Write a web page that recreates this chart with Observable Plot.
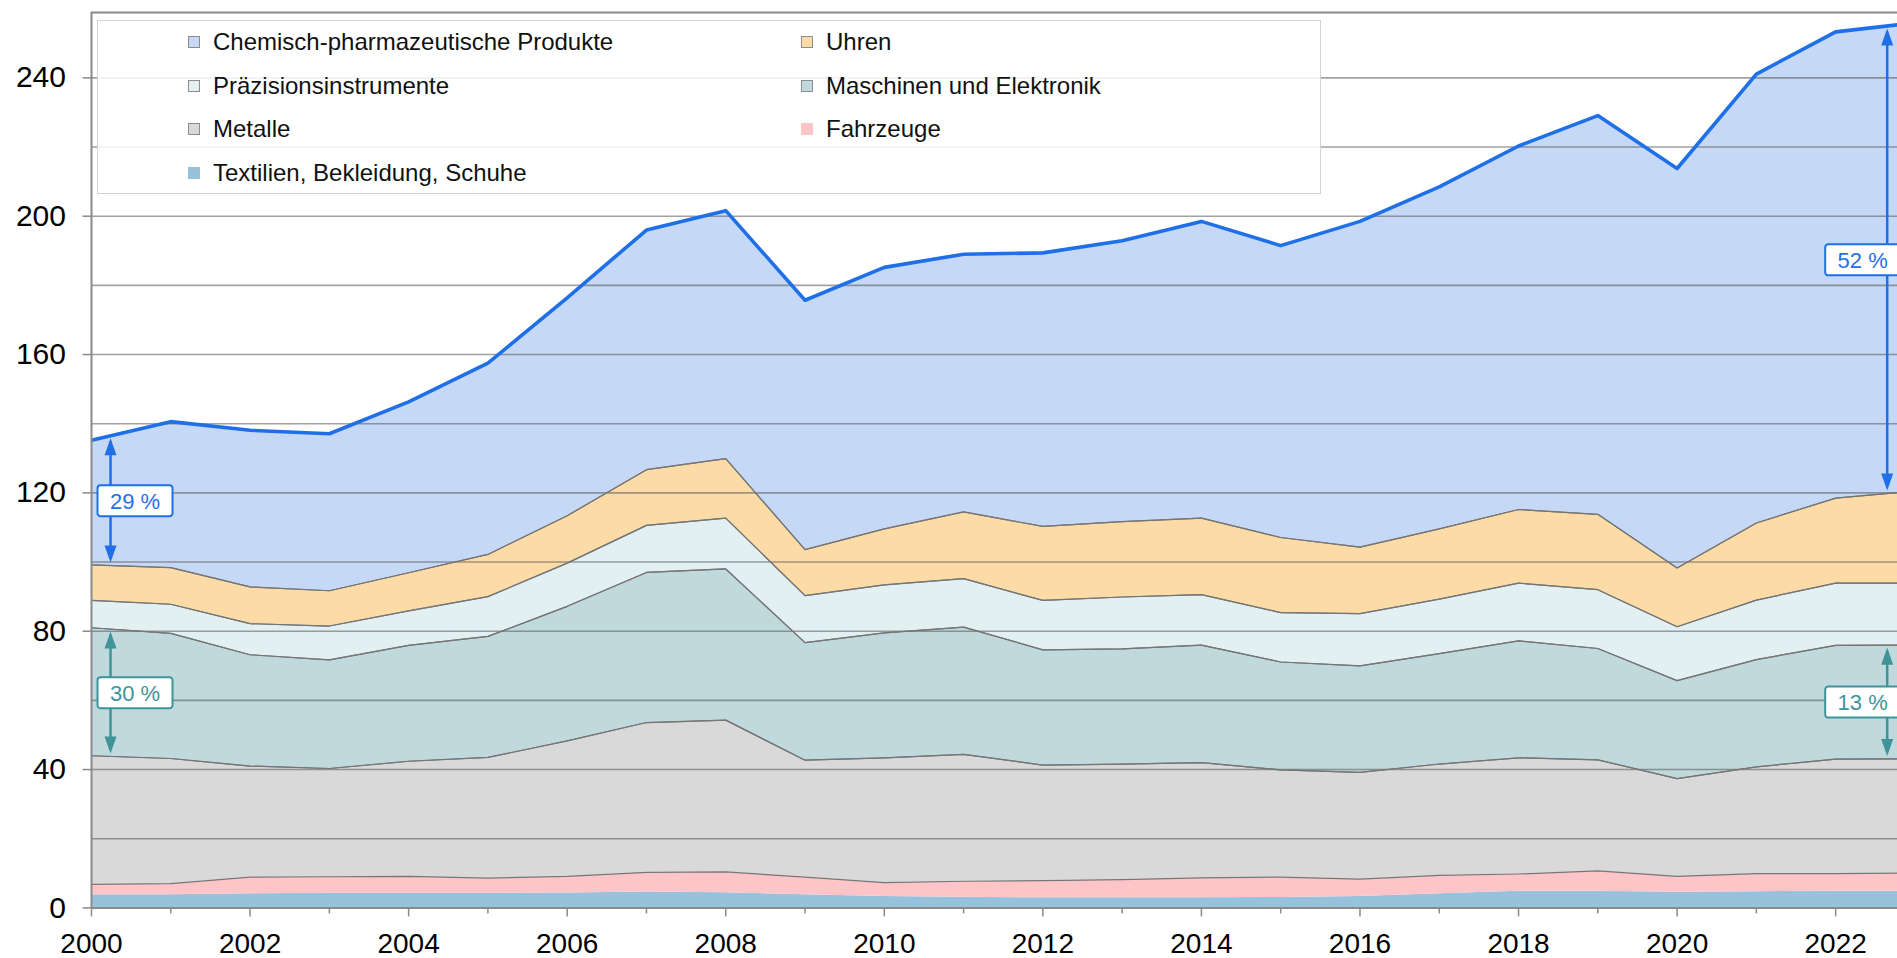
<!DOCTYPE html>
<html>
<head>
<meta charset="utf-8">
<script src="https://cdn.jsdelivr.net/npm/d3@7"></script>
<script src="https://cdn.jsdelivr.net/npm/@observablehq/plot@0.6"></script>
<style>
  html, body { margin: 0; padding: 0; background: #fff; overflow: hidden; }
  #wrap { position: relative; width: 1897px; height: 958px; }
  #legend { position: absolute; left: 97px; top: 20px; width: 1224px; height: 174px; box-sizing: border-box;
    border: 1px solid #d2d2d2; background: rgba(255,255,255,0.86);
    font-family: "Liberation Sans", Arial, sans-serif; font-size: 24px; color: #111; }
  .item { position: absolute; display: flex; align-items: center; height: 43.5px; white-space: nowrap; }
  .sw { width: 12px; height: 12px; box-sizing: border-box; margin-right: 13px; }
</style>
</head>
<body>
<div id="wrap"><div id="legend"></div></div>
<script>
// ---- data (billions, stacked bottom → top) ----
const years = [2000,2001,2002,2003,2004,2005,2006,2007,2008,2009,2010,2011,2012,2013,2014,2015,2016,2017,2018,2019,2020,2021,2022,2023];
const textilien  = [3.8,3.8,4.1,4.2,4.2,4.2,4.3,4.6,4.4,3.8,3.3,3.1,2.9,2.9,2.9,3.0,3.3,4.1,4.8,4.8,4.5,4.7,4.8,4.8];
const fahrzeuge  = [3.0,3.2,4.8,4.8,4.9,4.4,4.8,5.7,6.0,5.1,4.0,4.6,5.0,5.3,5.8,5.9,5.0,5.3,5.0,5.9,4.6,5.2,5.1,5.3];
const metalle    = [37.2,36.2,32.1,31.3,33.3,34.9,39.2,43.3,43.9,33.8,36.1,36.7,33.4,33.4,33.3,31.0,30.9,32.2,33.6,32.1,28.3,30.9,33.1,33.0];
const maschinen  = [37.0,36.2,32.2,31.4,33.5,35.0,38.9,43.4,43.7,34.0,36.1,36.8,33.3,33.3,34.0,31.2,30.8,31.9,33.8,32.2,28.3,31.0,32.9,32.9];
const praezision = [7.9,8.4,9.0,9.8,10.0,11.5,12.5,13.6,14.7,13.6,13.9,14.0,14.3,15.0,14.6,14.3,15.1,15.8,16.7,17.0,15.6,17.2,18.0,17.9];
const uhren      = [10.3,10.6,10.6,10.2,11.0,12.2,13.7,16.1,17.2,13.3,16.2,19.3,21.4,21.8,22.1,21.7,19.2,20.3,21.3,21.8,17.0,22.3,24.6,26.6];
const chemie     = [36.0,42.2,45.3,45.4,49.4,55.3,63.0,69.3,71.7,72.1,75.6,74.5,79.1,81.2,85.8,84.4,94.2,98.9,105.1,115.3,115.5,129.8,134.8,135.4];

const seriesNames = ["Textilien, Bekleidung, Schuhe","Fahrzeuge","Metalle","Maschinen und Elektronik","Präzisionsinstrumente","Uhren","Chemisch-pharmazeutische Produkte"];
const seriesValues = [textilien, fahrzeuge, metalle, maschinen, praezision, uhren, chemie];

// tick labels
const yTicks = [0,40,80,120,160,200,240];
const yGrid = [20,40,60,80,100,120,140,160,180,200,220,240];
const xLabelYears = [2000,2002,2004,2006,2008,2010,2012,2014,2016,2018,2020,2022];
const xMinorYears = [2001,2003,2005,2007,2009,2011,2013,2015,2017,2019,2021];

// share annotations
const annLayers = ["Chemisch-pharmazeutische Produkte","Maschinen und Elektronik","Chemisch-pharmazeutische Produkte","Maschinen und Elektronik"];
const annLabels = ["29 %","30 %","52 %","13 %"];
const annSides  = ["left","left","right","right"];

// ---- styles ----
const seriesColors = ["#98c1dc","#fec5c8","#d9d9d9","#bfd9dc","#e2f0f2","#fddba6","#c5d9f7"];
const outlined = [false,false,true,true,true,true,true];
const blue = "#1f6fe8", teal = "#3f9499";
const annColors = {"Chemisch-pharmazeutische Produkte": blue, "Maschinen und Elektronik": teal};
const annX = {left: 2000.24, right: 2022.65};
const FONT = '"Liberation Sans", Arial, sans-serif';
const yMax = 258.9, xMax = 2022.78;

const rows = [];
seriesNames.forEach((name, i) => years.forEach((yr, j) => rows.push({year: yr, series: name, value: seriesValues[i][j]})));

function cumulativeAt(layerIdx, x) {
  if (layerIdx < 0) return 0;
  const j = Math.min(Math.max(0, Math.floor(x - years[0])), years.length - 2);
  const t = x - years[j];
  let s = 0;
  for (let i = 0; i <= layerIdx; i++) s += seriesValues[i][j] * (1 - t) + seriesValues[i][j + 1] * t;
  return s;
}

const headUp = {draw(ctx) { ctx.moveTo(0, 0); ctx.lineTo(6, 17); ctx.lineTo(-6, 17); ctx.closePath(); }};
const headDown = {draw(ctx) { ctx.moveTo(0, 0); ctx.lineTo(6, -17); ctx.lineTo(-6, -17); ctx.closePath(); }};
function boxSymbol(x0, x1, h, r) {
  return {draw(ctx) {
    const y0 = -h / 2, y1 = h / 2;
    ctx.moveTo(x0 + r, y0); ctx.lineTo(x1 - r, y0); ctx.arcTo(x1, y0, x1, y0 + r, r);
    ctx.lineTo(x1, y1 - r); ctx.arcTo(x1, y1, x1 - r, y1, r);
    ctx.lineTo(x0 + r, y1); ctx.arcTo(x0, y1, x0, y1 - r, r);
    ctx.lineTo(x0, y0 + r); ctx.arcTo(x0, y0, x0 + r, y0, r); ctx.closePath();
  }};
}

const annMarks = [];
annLayers.forEach((layer, k) => {
  const idx = seriesNames.indexOf(layer);
  const side = annSides[k];
  const x = annX[side];
  const color = annColors[layer];
  const d = {x, top: cumulativeAt(idx, x), bottom: cumulativeAt(idx - 1, x), label: annLabels[k]};
  d.mid = (d.top + d.bottom) / 2;
  const data = [d];
  annMarks.push(
    Plot.ruleX(data, {x: "x", y1: "top", y2: "bottom", stroke: color, strokeWidth: 2.5, insetTop: 6, insetBottom: 6}),
    Plot.dot(data, {x: "x", y: "top", symbol: headUp, fill: color, stroke: "none", r: 5, dy: 2.5}),
    Plot.dot(data, {x: "x", y: "bottom", symbol: headDown, fill: color, stroke: "none", r: 5, dy: -3}),
    Plot.dot(data, {x: "x", y: "mid", symbol: side === "left" ? boxSymbol(-13, 62, 31, 3) : boxSymbol(-62, 13, 31, 3),
      fill: "white", stroke: color, strokeWidth: 2, r: 5}),
    Plot.text(data, {x: "x", y: "mid", text: "label", fill: color, fontSize: 22, fontFamily: FONT,
      dx: side === "left" ? 24.5 : -24.5, dy: 1})
  );
});

const plot = Plot.plot({
  width: 1897,
  height: 958,
  marginLeft: 91,
  marginRight: 0,
  marginTop: 12,
  marginBottom: 50.6,
  style: {fontFamily: FONT, fontSize: "28px", background: "white", color: "#000"},
  x: {domain: [years[0], xMax], label: null},
  y: {domain: [0, yMax], label: null},
  color: {domain: seriesNames, range: seriesColors},
  marks: [
    Plot.areaY(rows, Plot.stackY({x: "year", y: "value", z: "series", fill: "series", order: seriesNames, clip: true})),
    Plot.ruleY(yGrid, {stroke: "#555", strokeOpacity: 0.55, strokeWidth: 1.6}),
    Plot.lineY(rows, Plot.stackY1({x: "year", y: "value", z: "series", order: seriesNames, stroke: "#767676", strokeWidth: 1.2,
      strokeOpacity: d => outlined[seriesNames.indexOf(d.series)] ? 1 : 0, clip: true})),
    Plot.lineY(rows, Plot.stackY2({x: "year", y: "value", z: "series", order: seriesNames, stroke: "#767676", strokeWidth: 1.2,
      strokeOpacity: d => outlined[seriesNames.indexOf(d.series)] ? 1 : 0, clip: true})),
    Plot.lineY(rows, Plot.groupX({y: "sum"}, {x: "year", y: "value", stroke: blue, strokeWidth: 3.6, clip: true})),
    Plot.ruleY([yMax], {stroke: "#8a8a8a", strokeWidth: 2}),
    Plot.ruleY([0], {stroke: "#8a8a8a", strokeWidth: 2}),
    Plot.ruleX([years[0]], {stroke: "#8a8a8a", strokeWidth: 2}),
    Plot.axisY(yTicks, {tickSize: 8.5, tickPadding: 17, fontSize: 30, stroke: "#8a8a8a", strokeWidth: 1.5, fill: "#000"}),
    Plot.axisX(xLabelYears, {tickSize: 9, tickPadding: 16.5, fontSize: 28, tickFormat: "d", stroke: "#8a8a8a", strokeWidth: 1.5, fill: "#000"}),
    Plot.axisX(xMinorYears, {tickSize: 6, tickFormat: () => "", stroke: "#8a8a8a", strokeWidth: 1.5}),
    ...annMarks
  ]
});
const wrap = document.getElementById("wrap");
wrap.insertBefore(plot, wrap.firstChild);

// legend (inside plot, top-left), row-major in two columns, top layer first
const legend = document.getElementById("legend");
const order = seriesNames.map((n, i) => i).reverse();
order.forEach((i, k) => {
  const row = Math.floor(k / 2), col = k % 2;
  const item = document.createElement("div");
  item.className = "item";
  item.style.left = (col ? 703 : 90) + "px";
  item.style.top = (row * 43.5 - 0.5) + "px";
  const sw = document.createElement("span");
  sw.className = "sw";
  sw.style.background = seriesColors[i];
  sw.style.border = outlined[i] ? "1px solid #8c8c8c" : "none";
  const tx = document.createElement("span");
  tx.textContent = seriesNames[i];
  item.appendChild(sw); item.appendChild(tx);
  legend.appendChild(item);
});
</script>
</body>
</html>
